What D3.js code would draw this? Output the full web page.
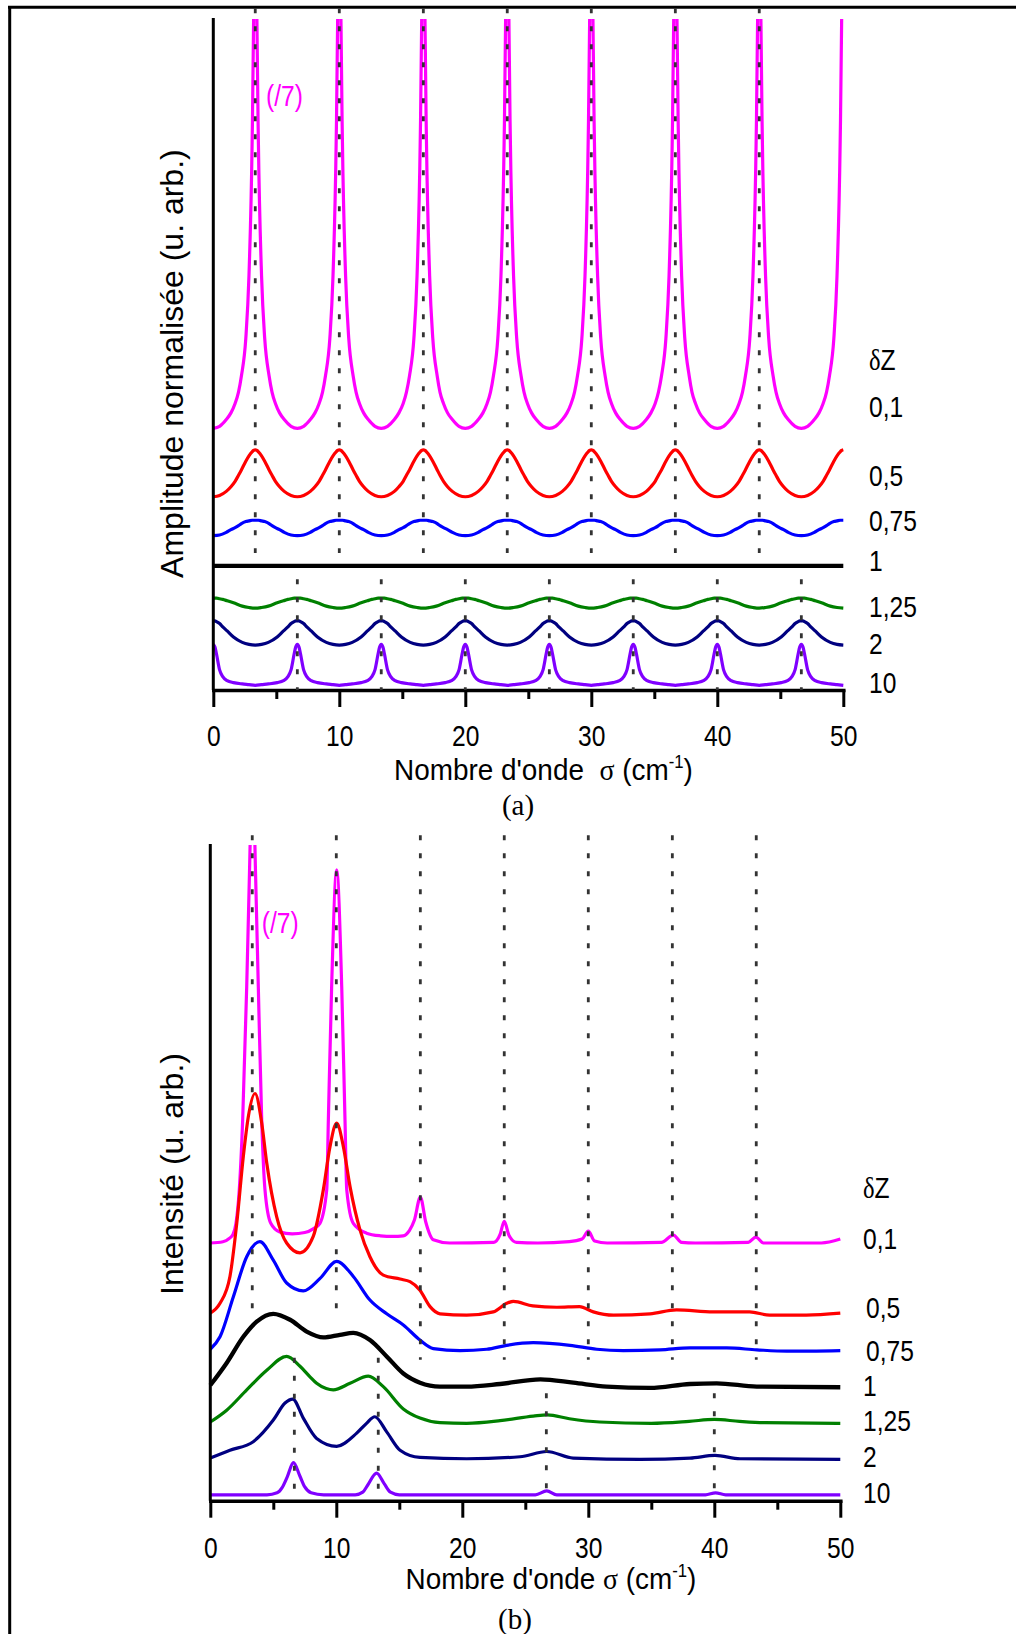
<!DOCTYPE html>
<html><head><meta charset="utf-8">
<script src="https://cdn.jsdelivr.net/npm/d3@7"></script>
<style>body{margin:0;background:#fff}svg{display:block}</style>
</head><body>
<script>
// ---------- shared ----------
const deltaZ = ["0,1","0,5","0,75","1","1,25","2","10"];
const colors = ["#ff00ff","#ff0000","#0000ff","#000000","#008000","#000080","#8000ff"];
const xTicksMajor = [0,10,20,30,40,50];
const xTicksMinor = [5,15,25,35,45];

// ---------- panel (a): amplitude ----------
const gridA = [
0,0.5,1.03,1.4,1.73,2.0,2.23,2.58,2.83,3.08,3.2,3.33,3.46,3.58,3.83,4.08,4.43,4.66,4.93,5.26,5.63,6.17,
6.67,7.17,7.7,8.07,8.4,8.67,8.9,9.25,9.5,9.75,9.87,10,10.13,10.25,10.5,10.75,11.1,11.33,11.6,11.93,12.3,12.83,
13.33,13.83,14.37,14.73,15.07,15.33,15.57,15.92,16.17,16.42,16.54,16.67,16.8,16.92,17.17,17.42,17.77,17.99,18.27,18.59,18.97,19.5,
20,20.5,21.03,21.4,21.73,22.0,22.23,22.58,22.83,23.08,23.2,23.33,23.46,23.58,23.83,24.08,24.43,24.66,24.93,25.26,25.63,26.17,
26.67,27.17,27.7,28.07,28.4,28.67,28.9,29.25,29.5,29.75,29.87,30,30.13,30.25,30.5,30.75,31.1,31.33,31.6,31.93,32.3,32.83,
33.33,33.83,34.37,34.73,35.07,35.33,35.57,35.92,36.17,36.42,36.54,36.67,36.8,36.92,37.17,37.42,37.77,37.99,38.27,38.59,38.97,39.5,
40,40.5,41.03,41.4,41.73,42.0,42.23,42.58,42.83,43.08,43.2,43.33,43.46,43.58,43.83,44.08,44.43,44.66,44.93,45.26,45.63,46.17,
46.67,47.17,47.7,48.07,48.4,48.67,48.9,49.25,49.5,49.75,49.87,50];
const gridB = [0,0.13,0.25,0.5,0.75,1.1,1.6,2.3,2.83,
3.33,3.83,4.37,5.07,5.57,5.92,6.17,6.42,6.54,6.67,6.8,6.92,7.17,7.42,7.77,8.27,8.97,9.5,
10,10.5,11.03,11.73,12.23,12.58,12.83,13.08,13.2,13.33,13.46,13.58,13.83,14.08,14.43,14.93,15.63,16.17,
16.67,17.17,17.7,18.4,18.9,19.25,19.5,19.75,19.87,20,20.13,20.25,20.5,20.75,21.1,21.6,22.3,22.83,
23.33,23.83,24.37,25.07,25.57,25.92,26.17,26.42,26.54,26.67,26.8,26.92,27.17,27.42,27.77,28.27,28.97,29.5,
30,30.5,31.03,31.73,32.23,32.58,32.83,33.08,33.2,33.33,33.46,33.58,33.83,34.08,34.43,34.93,35.63,36.17,
36.67,37.17,37.7,38.4,38.9,39.25,39.5,39.75,39.87,40,40.13,40.25,40.5,40.75,41.1,41.6,42.3,42.83,
43.33,43.83,44.37,45.07,45.57,45.92,46.17,46.42,46.54,46.67,46.8,46.92,47.17,47.42,47.77,48.27,48.97,49.5,
50];
const ampA_01 = [
39.0,39.3,40.3,41.3,42.7,44.4,46.8,52.4,61.7,81.5,100.1,150,100.1,81.5,61.7,52.4,46.8,44.4,42.7,41.3,40.3,39.3,
39.0,39.3,40.3,41.3,42.7,44.4,46.8,52.4,61.7,81.5,100.1,150,100.1,81.5,61.7,52.4,46.8,44.4,42.7,41.3,40.3,39.3,
39.0,39.3,40.3,41.3,42.7,44.4,46.8,52.4,61.7,81.5,100.1,150,100.1,81.5,61.7,52.4,46.8,44.4,42.7,41.3,40.3,39.3,
39.0,39.3,40.3,41.3,42.7,44.4,46.8,52.4,61.7,81.5,100.1,150,100.1,81.5,61.7,52.4,46.8,44.4,42.7,41.3,40.3,39.3,
39.0,39.3,40.3,41.3,42.7,44.4,46.8,52.4,61.7,81.5,100.1,150,100.1,81.5,61.7,52.4,46.8,44.4,42.7,41.3,40.3,39.3,
39.0,39.3,40.3,41.3,42.7,44.4,46.8,52.4,61.7,81.5,100.1,150,100.1,81.5,61.7,52.4,46.8,44.4,42.7,41.3,40.3,39.3,
39.0,39.3,40.3,41.3,42.7,44.4,46.8,52.4,61.7,81.5,100.1,150,100.1,81.5,61.7,52.4,46.8,44.4,42.7,41.3,40.3,39.3,
39.0,39.3,40.3,41.3,42.7,44.4,46.8,52.4,61.7,81.5,100.1,150];
const ampA_05 = [
28.8,29.0,29.6,30.3,31.1,32.0,32.8,34.1,34.9,35.5,35.7,35.8,35.7,35.5,34.9,34.1,32.8,32.0,31.1,30.3,29.6,29.0,
28.8,29.0,29.6,30.3,31.1,32.0,32.8,34.1,34.9,35.5,35.7,35.8,35.7,35.5,34.9,34.1,32.8,32.0,31.1,30.3,29.6,29.0,
28.8,29.0,29.6,30.3,31.1,32.0,32.8,34.1,34.9,35.5,35.7,35.8,35.7,35.5,34.9,34.1,32.8,32.0,31.1,30.3,29.6,29.0,
28.8,29.0,29.6,30.3,31.1,32.0,32.8,34.1,34.9,35.5,35.7,35.8,35.7,35.5,34.9,34.1,32.8,32.0,31.1,30.3,29.6,29.0,
28.8,29.0,29.6,30.3,31.1,32.0,32.8,34.1,34.9,35.5,35.7,35.8,35.7,35.5,34.9,34.1,32.8,32.0,31.1,30.3,29.6,29.0,
28.8,29.0,29.6,30.3,31.1,32.0,32.8,34.1,34.9,35.5,35.7,35.8,35.7,35.5,34.9,34.1,32.8,32.0,31.1,30.3,29.6,29.0,
28.8,29.0,29.6,30.3,31.1,32.0,32.8,34.1,34.9,35.5,35.7,35.8,35.7,35.5,34.9,34.1,32.8,32.0,31.1,30.3,29.6,29.0,
28.8,29.0,29.6,30.3,31.1,32.0,32.8,34.1,34.9,35.5,35.7,35.8];
const ampA_075 = [
23.0,23.1,23.5,23.9,24.2,24.5,24.8,25.1,25.2,25.3,25.3,25.3,25.3,25.3,25.2,25.1,24.8,24.5,24.2,23.9,23.5,23.1,
23.0,23.1,23.5,23.9,24.2,24.5,24.8,25.1,25.2,25.3,25.3,25.3,25.3,25.3,25.2,25.1,24.8,24.5,24.2,23.9,23.5,23.1,
23.0,23.1,23.5,23.9,24.2,24.5,24.8,25.1,25.2,25.3,25.3,25.3,25.3,25.3,25.2,25.1,24.8,24.5,24.2,23.9,23.5,23.1,
23.0,23.1,23.5,23.9,24.2,24.5,24.8,25.1,25.2,25.3,25.3,25.3,25.3,25.3,25.2,25.1,24.8,24.5,24.2,23.9,23.5,23.1,
23.0,23.1,23.5,23.9,24.2,24.5,24.8,25.1,25.2,25.3,25.3,25.3,25.3,25.3,25.2,25.1,24.8,24.5,24.2,23.9,23.5,23.1,
23.0,23.1,23.5,23.9,24.2,24.5,24.8,25.1,25.2,25.3,25.3,25.3,25.3,25.3,25.2,25.1,24.8,24.5,24.2,23.9,23.5,23.1,
23.0,23.1,23.5,23.9,24.2,24.5,24.8,25.1,25.2,25.3,25.3,25.3,25.3,25.3,25.2,25.1,24.8,24.5,24.2,23.9,23.5,23.1,
23.0,23.1,23.5,23.9,24.2,24.5,24.8,25.1,25.2,25.3,25.3,25.3];
const ampA_1x = [0,50];
const ampA_1 = [18.5,18.5];
const ampA_125 = [13.7,13.7,13.7,13.6,13.5,13.3,13.0,12.5,12.3,
12.2,12.3,12.5,13.0,13.3,13.5,13.6,13.7,13.7,13.7,13.7,13.7,13.6,13.5,13.3,13.0,12.5,12.3,
12.2,12.3,12.5,13.0,13.3,13.5,13.6,13.7,13.7,13.7,13.7,13.7,13.6,13.5,13.3,13.0,12.5,12.3,
12.2,12.3,12.5,13.0,13.3,13.5,13.6,13.7,13.7,13.7,13.7,13.7,13.6,13.5,13.3,13.0,12.5,12.3,
12.2,12.3,12.5,13.0,13.3,13.5,13.6,13.7,13.7,13.7,13.7,13.7,13.6,13.5,13.3,13.0,12.5,12.3,
12.2,12.3,12.5,13.0,13.3,13.5,13.6,13.7,13.7,13.7,13.7,13.7,13.6,13.5,13.3,13.0,12.5,12.3,
12.2,12.3,12.5,13.0,13.3,13.5,13.6,13.7,13.7,13.7,13.7,13.7,13.6,13.5,13.3,13.0,12.5,12.3,
12.2,12.3,12.5,13.0,13.3,13.5,13.6,13.7,13.7,13.7,13.7,13.7,13.6,13.5,13.3,13.0,12.5,12.3,
12.2];
const ampA_2 = [10.3,10.3,10.2,9.9,9.4,8.8,7.9,7.1,6.8,
6.7,6.8,7.1,7.9,8.8,9.4,9.9,10.2,10.3,10.3,10.3,10.2,9.9,9.4,8.8,7.9,7.1,6.8,
6.7,6.8,7.1,7.9,8.8,9.4,9.9,10.2,10.3,10.3,10.3,10.2,9.9,9.4,8.8,7.9,7.1,6.8,
6.7,6.8,7.1,7.9,8.8,9.4,9.9,10.2,10.3,10.3,10.3,10.2,9.9,9.4,8.8,7.9,7.1,6.8,
6.7,6.8,7.1,7.9,8.8,9.4,9.9,10.2,10.3,10.3,10.3,10.2,9.9,9.4,8.8,7.9,7.1,6.8,
6.7,6.8,7.1,7.9,8.8,9.4,9.9,10.2,10.3,10.3,10.3,10.2,9.9,9.4,8.8,7.9,7.1,6.8,
6.7,6.8,7.1,7.9,8.8,9.4,9.9,10.2,10.3,10.3,10.3,10.2,9.9,9.4,8.8,7.9,7.1,6.8,
6.7,6.8,7.1,7.9,8.8,9.4,9.9,10.2,10.3,10.3,10.3,10.2,9.9,9.4,8.8,7.9,7.1,6.8,
6.7];
const ampA_10 = [6.8,6.4,5.4,3.0,2.0,1.4,1.1,0.9,0.8,
0.7,0.8,0.9,1.1,1.4,2.0,3.0,5.4,6.4,6.8,6.4,5.4,3.0,2.0,1.4,1.1,0.9,0.8,
0.7,0.8,0.9,1.1,1.4,2.0,3.0,5.4,6.4,6.8,6.4,5.4,3.0,2.0,1.4,1.1,0.9,0.8,
0.7,0.8,0.9,1.1,1.4,2.0,3.0,5.4,6.4,6.8,6.4,5.4,3.0,2.0,1.4,1.1,0.9,0.8,
0.7,0.8,0.9,1.1,1.4,2.0,3.0,5.4,6.4,6.8,6.4,5.4,3.0,2.0,1.4,1.1,0.9,0.8,
0.7,0.8,0.9,1.1,1.4,2.0,3.0,5.4,6.4,6.8,6.4,5.4,3.0,2.0,1.4,1.1,0.9,0.8,
0.7,0.8,0.9,1.1,1.4,2.0,3.0,5.4,6.4,6.8,6.4,5.4,3.0,2.0,1.4,1.1,0.9,0.8,
0.7,0.8,0.9,1.1,1.4,2.0,3.0,5.4,6.4,6.8,6.4,5.4,3.0,2.0,1.4,1.1,0.9,0.8,
0.7];
const markA_up = [3.33,10,16.67,23.33,30,36.67,43.33];
const markA_low = [6.67,13.33,20,26.67,33.33,40,46.67];
const labelYA = [42.2,32.0,25.3,19.3,12.4,7.0,1.1];
const headerYA = 49.2;

// ---------- panel (b): intensity ----------
const intB_01x = [0,1.0,1.5,1.8,2.04,2.3,2.57,2.89,3.1,3.35,3.6,3.81,4.08,4.34,4.8,5.5,6.5,7.5,8.2,8.7,9.24,9.37,9.63,10.03,10.43,10.69,10.83,11.35,12.4,13.5,14.5,15.3,15.8,16.2,16.67,17.1,17.7,19,22.5,23.0,23.33,23.7,24.3,26,28.5,29.5,30.0,30.5,31.5,35.8,36.75,37.4,38.5,42.7,43.3,43.9,48.5,50];
const intB_01 = [39.3,39.5,40.0,40.6,42.3,47.4,58.1,78.4,95,112,95,78.4,58.1,47.4,42.3,41.0,40.7,40.9,41.5,42.3,47.4,58.1,78.4,96.2,78.4,58.1,47.4,42.3,40.8,40.4,40.3,40.4,41.2,42.8,46.3,42.5,39.8,39.3,39.4,40.6,42.6,40.5,39.4,39.3,39.5,39.9,41.1,39.6,39.3,39.4,40.5,39.4,39.3,39.4,40.2,39.3,39.3,39.9];
const intB_05x = [0,0.77,1.56,2.1,2.62,3.02,3.55,4.08,4.48,5.27,6.06,7.12,8.17,8.97,9.5,10.03,10.56,11.09,11.88,12.67,13.73,15.06,15.85,16.64,17.44,18.23,20.35,22.46,23.52,24.05,25.6,27.5,29.3,30.4,32.0,34.9,37.0,39.9,42.8,44.4,47.3,50];
const intB_05 = [28.6,30.1,34.2,42.3,52.5,58.6,62.1,57.6,51.5,43.3,39.3,37.8,40.3,47.4,54.0,57.6,54.0,47.9,41.3,37.2,34.4,33.8,33.4,32.1,29.6,28.5,28.3,28.8,30.1,30.4,29.7,29.5,29.6,28.8,28.3,28.5,29.1,28.8,28.8,28.3,28.3,28.6];
const intB_075x = [0,0.77,1.83,2.89,3.94,5.0,6.06,7.38,8.71,10.03,11.35,12.67,14.0,15.32,16.64,17.7,19.82,21.94,23.52,25.63,28.55,30.67,32.78,35.69,38.07,40.98,43.37,45.75,50];
const intB_075 = [23.1,25.0,31.1,37.2,39.5,36.7,33.2,32.0,33.9,36.5,34.2,30.6,28.5,26.8,24.5,23.2,22.9,23.1,23.7,24.1,23.7,23.1,22.9,23.0,23.3,23.3,23.0,22.8,22.9];
const intB_1x = [0,1.3,2.62,3.68,5.0,6.33,7.65,8.97,10.29,11.35,12.67,14.0,15.32,16.64,18.23,20.35,23.0,26.2,28.81,31.46,34.9,38.07,40.19,43.37,50];
const intB_1 = [17.6,21.0,25.0,27.3,28.5,27.6,25.8,24.9,25.3,25.6,24.5,22.0,19.4,18.0,17.4,17.4,17.8,18.5,18.0,17.4,17.2,17.8,17.9,17.4,17.3];
const intB_125x = [0,1.3,2.89,4.48,6.06,7.12,7.91,8.44,9.2,9.76,11.09,12.54,13.73,15.32,16.64,18.23,20.35,23.0,25.63,26.75,28.5,30.9,35,38,40,42,44,50];
const intB_125 = [12.0,13.8,16.9,19.9,22.0,20.5,18.9,17.9,17.1,16.9,17.9,19.0,17.4,14.0,12.6,11.9,11.8,12.2,12.9,13.1,12.5,12.0,11.8,12.1,12.4,12.1,11.9,11.8];
const intB_2x = [0,1.56,3.41,5.0,5.93,6.54,7.38,8.44,10.03,11.62,12.4,13.05,14.0,15.06,16.64,20.35,24.58,26.7,28.8,34.1,38.07,40.06,42.04,50];
const intB_2 = [6.5,7.7,9.0,12.3,14.9,15.5,12.6,9.5,8.3,10.3,11.8,12.8,10.5,7.7,6.6,6.4,6.7,7.5,6.5,6.3,6.5,6.9,6.4,6.3];
const intB_10x = [0,4.5,5.3,5.7,6.1,6.6,7.1,7.5,8.0,9.0,11.5,12.1,12.5,13.2,13.8,14.3,15.0,25.8,26.7,27.5,39.3,40.1,40.9,50];
const intB_10 = [0.9,0.9,1.2,2.0,3.6,5.8,3.8,2.1,1.2,0.9,0.9,1.3,2.4,4.2,2.6,1.3,0.9,0.9,1.5,0.9,0.9,1.2,0.9,0.9];
const markB_up = [3.33,10,16.67,23.33,30,36.67,43.33];
const markB_upEnd = [29,29,21.5,21.5,21.5,21.5,21.5];
const markB_low = [6.67,13.33,26.67,40];
const markB_lowStart = [21.8,21.8,16.4,16.4];
const labelYB = [40.0,29.4,22.9,17.5,12.2,6.8,1.3];
const headerYB = 47.7;

// ---------- drawing ----------
const SANS = "'Liberation Sans', Arial, sans-serif";
const SERIF = "'Liberation Serif', 'Times New Roman', serif";
const NARROW = 0.82;
const svg = d3.select("body").append("svg").attr("width",1016).attr("height",1634);
const defs = svg.append("defs");

// frame
svg.append("line").attr("x1",8).attr("x2",1016).attr("y1",7.3).attr("y2",7.3).attr("stroke","#000").attr("stroke-width",3);
svg.append("line").attr("x1",9.7).attr("x2",9.7).attr("y1",6).attr("y2",1634).attr("stroke","#000").attr("stroke-width",3);

function drawPanel(p){
  const x = d3.scaleLinear().domain([0,50]).range([p.x0,p.x1]);
  const y = d3.scaleLinear().domain([0,100]).range([p.yB,p.yT]);
  const g = svg.append("g");
  defs.append("clipPath").attr("id",p.id+"clip").append("rect")
    .attr("x",p.x0-4).attr("y",p.yT).attr("width",p.x1-p.x0+8).attr("height",p.yB-p.yT+6);
  const line = d3.line().x(d=>x(d[0])).y(d=>y(d[1])).curve(d3.curveMonotoneX);
  const cg = g.append("g").attr("clip-path",`url(#${p.id}clip)`);
  p.series.forEach((s,i)=>{
    const pts = s.xs.map((v,j)=>[v,s.ys[j]]);
    cg.append("path").attr("d",line(pts)).attr("fill","none")
      .attr("stroke",colors[i]).attr("stroke-width",i===3?4.3:3.2)
      .attr("stroke-linejoin","round");
  });
  // axes
  g.append("line").attr("x1",p.x0).attr("x2",p.x0).attr("y1",p.yT-1).attr("y2",p.yB)
    .attr("stroke","#000").attr("stroke-width",3);
  const ax = g.append("g").attr("transform",`translate(0,${p.yB})`)
    .call(d3.axisBottom(x).tickValues(xTicksMajor).tickSize(17).tickSizeOuter(0).tickFormat(d3.format("d")));
  ax.select(".domain").attr("stroke-width",3.5).attr("stroke-linecap","square");
  ax.selectAll(".tick line").attr("stroke-width",3);
  ax.selectAll(".tick text").attr("y",null).attr("dy",null)
    .attr("transform",`translate(0,${p.tickDy}) scale(${NARROW},1)`)
    .attr("font-family",SANS).attr("font-size",30).attr("fill","#000");
  const axm = g.append("g").attr("transform",`translate(0,${p.yB})`)
    .call(d3.axisBottom(x).tickValues(xTicksMinor).tickSize(9).tickSizeOuter(0).tickFormat(""));
  axm.select(".domain").remove();
  axm.selectAll(".tick line").attr("stroke-width",3);

  // dashed guide lines
  p.marks.forEach(m=>{
    m.xs.forEach((v,j)=>{
      g.append("line").attr("x1",x(v)).attr("x2",x(v))
        .attr("y1",y(Array.isArray(m.from)?m.from[j]:m.from))
        .attr("y2",y(Array.isArray(m.to)?m.to[j]:m.to))
        .attr("stroke","#333").attr("stroke-width",2.8).attr("stroke-dasharray","5,13");
    });
  });

  // right labels
  const hd = g.append("text").attr("transform",`translate(${p.labelX},${y(p.headerY)}) scale(${NARROW},1)`)
    .attr("dy","0.35em").attr("font-size",30).attr("font-family",SANS);
  hd.append("tspan").attr("font-family",SERIF).text("δ");
  hd.append("tspan").text("Z");
  deltaZ.forEach((t,i)=>{
    g.append("text").attr("transform",`translate(${p.labelX + (p.labelShift[i]||0)},${y(p.labelY[i])}) scale(${NARROW},1)`)
      .attr("dy","0.35em").attr("font-size",30).attr("font-family",SANS).text(t);
  });
  // (/7)
  g.append("text").attr("transform",`translate(${x(p.note[0])},${y(p.note[1])}) scale(${NARROW},1)`)
    .attr("font-size",30).attr("font-family",SANS).attr("fill","#ff00ff").text("(/7)");

  // x title
  const xt = g.append("text").attr("font-size",30).attr("font-family",SANS).style("white-space","pre");
  xt.append("tspan").text(p.xTitle);
  xt.append("tspan").attr("font-family",SERIF).text("σ");
  xt.append("tspan").text(" (cm");
  xt.append("tspan").attr("font-size",18).attr("dy",-12).text("-1");
  xt.append("tspan").attr("dy",12).text(")");
  const w = xt.node().getBBox().width;
  xt.attr("transform",`translate(${p.xTitleX},${p.xTitleBase}) scale(${p.xTitleW/w},1)`);

  // y title
  g.append("text").attr("transform",`translate(182.5,${p.yTitleC}) rotate(-90)`)
    .attr("text-anchor","middle").attr("font-size",32).attr("font-family",SANS).text(p.yTitle);

  // panel letter
  g.append("text").attr("x",p.letter[0]).attr("y",p.letter[1]).attr("text-anchor","middle")
    .attr("font-size",29).attr("font-family",SERIF).text(p.letter[2]);
}

drawPanel({
  id:"a", x0:213.3, x1:843.3, yB:690, yT:19, tickDy:56,
  series:[
    {xs:gridA, ys:ampA_01},{xs:gridA, ys:ampA_05},{xs:gridA, ys:ampA_075},
    {xs:ampA_1x, ys:ampA_1},{xs:gridB, ys:ampA_125},{xs:gridB, ys:ampA_2},{xs:gridB, ys:ampA_10}],
  marks:[{xs:markA_up, from:101.6, to:20.4},{xs:markA_low, from:16.5, to:0}],
  labelX:869, labelShift:[0,0,0,0,0,0,0], labelY:labelYA, headerY:headerYA,
  note:[4.18,87.0],
  xTitle:"Nombre d'onde  ", xTitleX:394, xTitleW:299, xTitleBase:780,
  yTitle:"Amplitude normalisée (u. arb.)", yTitleC:363.6,
  letter:[518,815,"(a)"]
});
drawPanel({
  id:"b", x0:210.3, x1:840.3, yB:1500.7, yT:845, tickDy:57,
  series:[
    {xs:intB_01x, ys:intB_01},{xs:intB_05x, ys:intB_05},{xs:intB_075x, ys:intB_075},
    {xs:intB_1x, ys:intB_1},{xs:intB_125x, ys:intB_125},{xs:intB_2x, ys:intB_2},{xs:intB_10x, ys:intB_10}],
  marks:[{xs:markB_up, from:101.5, to:markB_upEnd},{xs:markB_low, from:markB_lowStart, to:0}],
  labelX:863, labelShift:[0,3,3,0,0,0,0], labelY:labelYB, headerY:headerYB,
  note:[4.08,86.6],
  xTitle:"Nombre d'onde ", xTitleX:405.5, xTitleW:291, xTitleBase:1589,
  yTitle:"Intensité (u. arb.)", yTitleC:1174,
  letter:[515,1629,"(b)"]
});
</script>
</body></html>
